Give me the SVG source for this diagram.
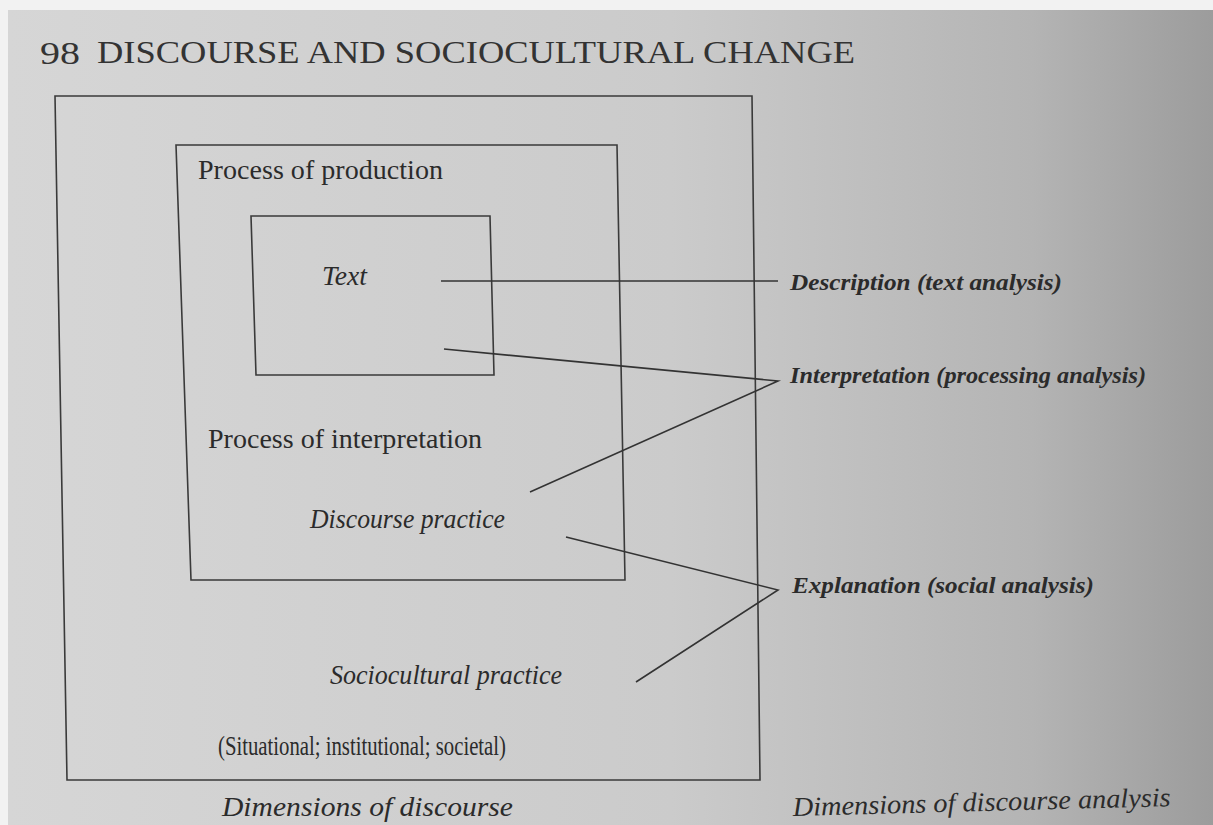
<svg xmlns="http://www.w3.org/2000/svg" width="1213" height="825" viewBox="0 0 1213 825">
<defs>
<linearGradient id="bg" x1="0" y1="0" x2="1" y2="0">
<stop offset="0" stop-color="#d6d6d6"/>
<stop offset="0.55" stop-color="#cbcbcb"/>
<stop offset="0.85" stop-color="#b4b4b4"/>
<stop offset="1" stop-color="#9c9c9c"/>
</linearGradient>
<style>
.box{fill:none;stroke:#3a3a3a;stroke-width:1.6}
.con{fill:none;stroke:#333;stroke-width:1.6}
.t{font-family:"Liberation Serif","Times New Roman",serif;fill:#2b2b2b;font-size:27px}
.i{font-style:italic}
.bi{font-style:italic;font-weight:bold;font-size:24px}
.hd{font-family:"Liberation Serif","Times New Roman",serif;fill:#333;font-size:32px}
</style>
</defs>
<rect width="1213" height="825" fill="#f2f2f2"/>
<rect x="8" y="10" width="1205" height="815" fill="url(#bg)"/>
<g id="header">
<text class="hd" x="40" y="64" font-size="38" textLength="40" lengthAdjust="spacingAndGlyphs">98</text>
<text class="hd" x="97" y="63" textLength="758" lengthAdjust="spacingAndGlyphs">DISCOURSE AND SOCIOCULTURAL CHANGE</text>
</g>
<g id="sociocultural">
<path class="box" d="M55,96 L752,96 L760,780 L67,780 Z"/>
<text class="t i" x="330" y="684" textLength="232" lengthAdjust="spacingAndGlyphs">Sociocultural practice</text>
<text class="t" x="218" y="755" textLength="288" lengthAdjust="spacingAndGlyphs">(Situational; institutional; societal)</text>
</g>
<g id="discourse">
<path class="box" d="M176,145 L617,145 L625,580 L191,580 Z"/>
<text class="t" x="198" y="179" textLength="245" lengthAdjust="spacingAndGlyphs">Process of production</text>
<text class="t" x="208" y="448" textLength="274" lengthAdjust="spacingAndGlyphs">Process of interpretation</text>
<text class="t i" x="310" y="528" textLength="195" lengthAdjust="spacingAndGlyphs">Discourse practice</text>
</g>
<g id="text">
<path class="box" d="M251,216 L490,216 L494,375 L256,375 Z"/>
<text class="t i" x="322" y="285" textLength="45" lengthAdjust="spacingAndGlyphs">Text</text>
</g>
<g id="connectors">
<path class="con" d="M441,281 L778,281"/>
<path class="con" d="M444,349 L778,381 L530,492"/>
<path class="con" d="M566,537 L778,590 L636,682"/>
</g>
<g id="analysis">
<text class="t bi" x="790" y="290" textLength="272" lengthAdjust="spacingAndGlyphs">Description (text analysis)</text>
<text class="t bi" x="790" y="383" textLength="356" lengthAdjust="spacingAndGlyphs">Interpretation (processing analysis)</text>
<text class="t bi" x="792" y="593" textLength="302" lengthAdjust="spacingAndGlyphs">Explanation (social analysis)</text>
</g>
<g id="captions">
<text class="t i" x="222" y="816" font-size="26" textLength="291" lengthAdjust="spacingAndGlyphs">Dimensions of discourse</text>
<text class="t i" x="793" y="816" font-size="26" textLength="378" lengthAdjust="spacingAndGlyphs" transform="rotate(-1.5 793 816)">Dimensions of discourse analysis</text>
</g>
</svg>
